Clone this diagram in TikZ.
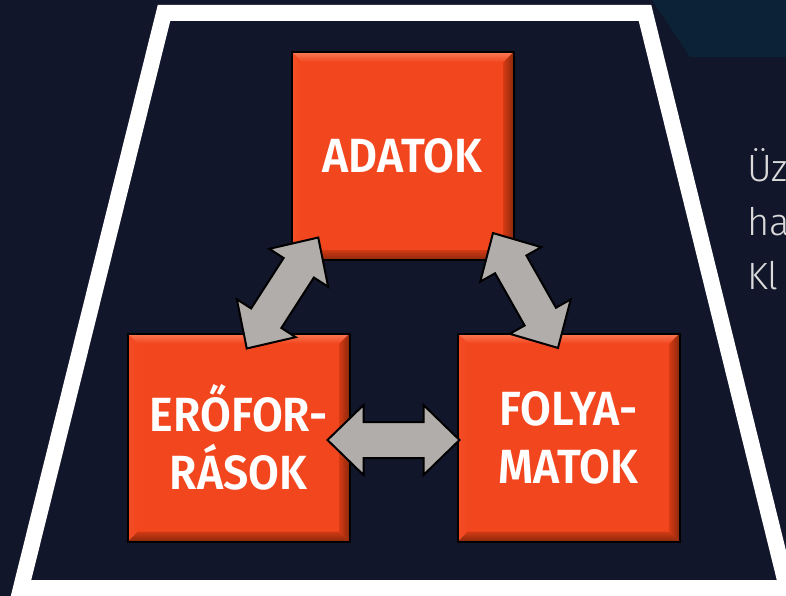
\documentclass[tikz,border=0pt]{standalone}
\usepackage{fontspec}
\usetikzlibrary{calc}
\newfontfamily\boxfont[FakeStretch=0.93, BoldFont={* SemiBold}]{Fira Sans}
\newfontfamily\thinfont{Fira Sans Light}
\definecolor{bg}{HTML}{12162A}
\definecolor{tealbg}{HTML}{0C2237}
\definecolor{boxor}{HTML}{F2461E}
\definecolor{bevlight}{HTML}{F97B57}
\definecolor{bevdark}{HTML}{8A280C}
\definecolor{bevmid}{HTML}{D23A14}
\definecolor{arrgray}{HTML}{B0ADAB}
\definecolor{sidetext}{HTML}{DADADA}
\tikzset{
  obox/.style={rectangle, fill=boxor, draw=black, line width=2pt,
    minimum width=222pt, minimum height=208pt, inner sep=0pt, outer sep=0pt,
    text=white, font=\boxfont\bfseries\fontsize{48}{58}\selectfont, align=center,
    path picture={
      \coordinate (nw) at (path picture bounding box.north west);
      \coordinate (ne) at (path picture bounding box.north east);
      \coordinate (sw) at (path picture bounding box.south west);
      \coordinate (se) at (path picture bounding box.south east);
      \shade[top color=bevlight, bottom color=boxor] (nw) -- (ne) -- ($(ne)+(-10pt,-10pt)$) -- ($(nw)+(10pt,-10pt)$) -- cycle;
      \shade[top color=bevmid, bottom color=bevdark] ($(sw)+(10pt,10pt)$) -- ($(se)+(-10pt,10pt)$) -- (se) -- (sw) -- cycle;
      \shade[left color=bevmid, right color=bevdark] ($(ne)+(-10pt,-10pt)$) -- (ne) -- (se) -- ($(se)+(-10pt,10pt)$) -- cycle;
      \shade[left color=boxor!85!bevlight, right color=boxor] (nw) -- ($(nw)+(10pt,-10pt)$) -- ($(sw)+(10pt,10pt)$) -- (sw) -- cycle;
    }},
  arrowsty/.style={fill=arrgray, draw=black, line width=2pt, line join=miter},
  dblarrow/.pic={
    \draw[arrowsty] (-66,0) -- (-30,35) -- (-30,18) -- (30,18) -- (30,35) -- (66,0)
      -- (30,-35) -- (30,-18) -- (-30,-18) -- (-30,-35) -- cycle;
  },
  frame/.style={draw=white, line width=16pt, line join=miter},
  side/.style={text=sidetext, font=\thinfont\fontsize{38}{40}\selectfont, inner sep=0pt, anchor=base west}
}
\begin{document}
\begin{tikzpicture}[x=1pt, y=-1pt]
  \useasboundingbox (0,0) rectangle (786,596);
  \clip (0,0) rectangle (786,596);
  \fill[bg] (0,0) rectangle (786,596);
  \fill[tealbg] (652,0) -- (690,57) -- (786,57) -- (786,0) -- cycle;
  \draw[frame] (164,13) -- (645,13) -- (787,588) -- (21,588) -- cycle;
  \node[side] (t1) at (747,182) {Üz};
  \node[side] (t2) at (747,235) {ha};
  \node[side] (t3) at (747,289) {Kl};
  \node[obox] (ad) at (402.5,156) {ADATOK};
  \node[obox] (er) at (238.5,437.5) {ERŐFOR-\\RÁSOK};
  \node[obox] (fo) at (568.5,437.5) {FOLYA-\\MATOK};
  \pic[rotate=57.2] at (282.5,293) {dblarrow};
  \pic[rotate=-60.5] at (525.5,290.5) {dblarrow};
  \pic at (393.5,440) {dblarrow};
\end{tikzpicture}
\end{document}
